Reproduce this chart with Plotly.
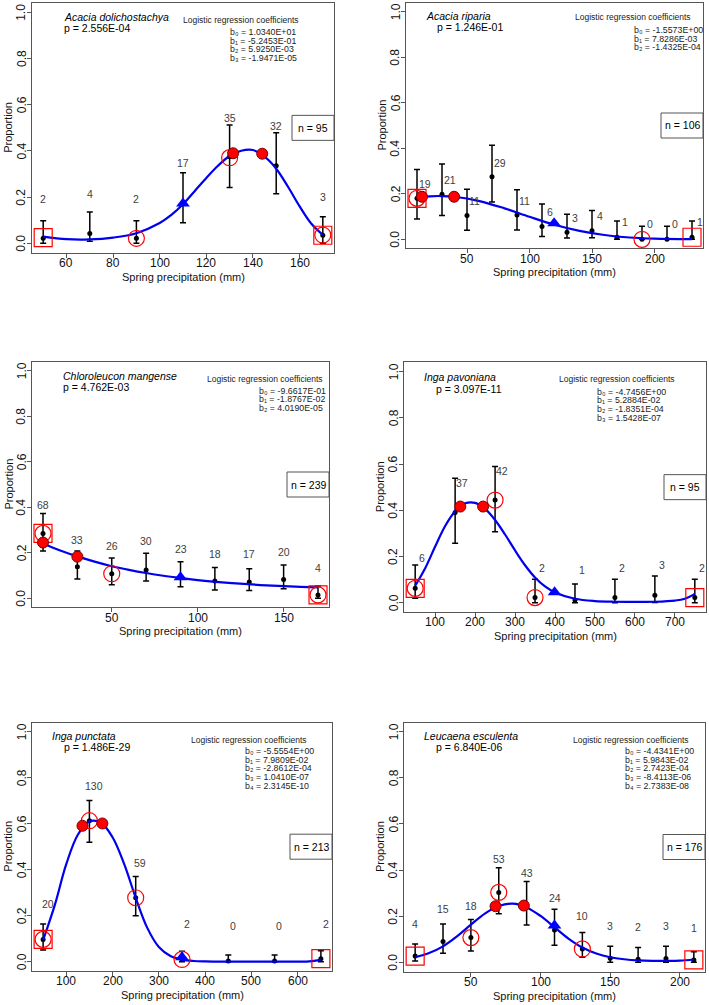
import math
import plotly.graph_objects as go

W, H = 709, 1005

# ---------------- DATA ----------------
# Panel 1: Acacia dolichostachya
ad_species = "Acacia dolichostachya"
ad_pvalue = "p = 2.556E-04"
ad_coefs = ["1.0340E+01", "-5.2453E-01", "5.9250E-03", "-1.9471E-05"]
ad_n = "n = 95"
ad_x = [50, 70, 90, 110, 130, 150, 170]
ad_prop = [0.022, 0.043, 0.022, 0.176, 0.375, 0.336, 0.035]
ad_upper = [0.098, 0.136, 0.098, 0.306, 0.512, 0.479, 0.115]
ad_lower = [0.0, 0.009, 0.0, 0.089, 0.242, 0.215, 0.0]
ad_count = [2, 4, 2, 17, 35, 32, 3]
ad_count_y = [0.192, 0.214, 0.192, 0.349, 0.541, 0.508, 0.202]
ad_fit_x = [50, 60, 70, 80, 90, 100, 105, 110, 115, 120, 125, 130, 135, 140, 145, 150, 155, 160, 165, 170]
ad_fit_y = [0.029, 0.018, 0.017, 0.025, 0.044, 0.088, 0.123, 0.169, 0.226, 0.283, 0.336, 0.378, 0.401,
            0.404, 0.375, 0.323, 0.246, 0.161, 0.086, 0.037]
ad_square_x = [50, 170]
ad_square_y = [0.025, 0.035]
ad_circle_x = [90, 130, 170]
ad_circle_y = [0.022, 0.371, 0.036]
ad_dot_x = [131.5, 144]
ad_dot_y = [0.39, 0.388]
ad_tri_x = [110]
ad_tri_y = [0.173]

# Panel 2: Acacia riparia
ar_species = "Acacia riparia"
ar_pvalue = "p = 1.246E-01"
ar_coefs = ["-1.5573E+00", "7.8286E-03", "-1.4325E-04"]
ar_n = "n = 106"
ar_x = [10, 30, 50, 70, 90, 110, 130, 150, 170, 190, 210, 230]
ar_prop = [0.18, 0.198, 0.105, 0.275, 0.107, 0.056, 0.031, 0.038, 0.009, 0.0, 0.0, 0.009]
ar_upper = [0.307, 0.331, 0.22, 0.413, 0.218, 0.155, 0.11, 0.127, 0.08, 0.057, 0.057, 0.08]
ar_lower = [0.089, 0.105, 0.04, 0.164, 0.041, 0.012, 0.006, 0.007, 0.0, 0.0, 0.0, 0.0]
ar_count = [19, 21, 11, 29, 11, 6, 3, 4, 1, 0, 0, 1]
ar_count_y = [0.245, 0.261, 0.17, 0.337, 0.168, 0.12, 0.092, 0.102, 0.075, 0.066, 0.066, 0.075]
ar_fit_x = [10, 20, 30, 40, 60, 80, 100, 120, 140, 160, 180, 200, 230]
ar_fit_y = [0.183, 0.189, 0.190, 0.187, 0.168, 0.136, 0.099, 0.064, 0.037, 0.019, 0.008, 0.003, 0.001]
ar_square_x = [10, 230]
ar_square_y = [0.18, 0.009]
ar_circle_x = [10, 190]
ar_circle_y = [0.18, 0.0]
ar_dot_x = [14, 39.7]
ar_dot_y = [0.187, 0.187]
ar_tri_x = [119.7]
ar_tri_y = [0.07]

# Panel 3: Chloroleucon mangense
cm_species = "Chloroleucon mangense"
cm_pvalue = "p = 4.762E-03"
cm_coefs = ["-9.6617E-01", "-1.8767E-02", "4.0190E-05"]
cm_n = "n = 239"
cm_x = [10, 30, 50, 70, 90, 110, 130, 150, 170]
cm_prop = [0.285, 0.139, 0.108, 0.124, 0.092, 0.076, 0.072, 0.083, 0.015]
cm_upper = [0.373, 0.208, 0.177, 0.198, 0.161, 0.135, 0.13, 0.146, 0.054]
cm_lower = [0.208, 0.085, 0.059, 0.076, 0.051, 0.037, 0.034, 0.042, 0.0]
cm_count = [68, 33, 26, 30, 23, 18, 17, 20, 4]
cm_count_y = [0.41, 0.256, 0.23, 0.25, 0.217, 0.196, 0.193, 0.205, 0.135]
cm_fit_x = [10, 20, 30, 40, 50, 60, 70, 80, 90, 100, 120, 140, 160, 170]
cm_fit_y = [0.241, 0.210, 0.184, 0.161, 0.141, 0.125, 0.111, 0.099, 0.089, 0.080, 0.067, 0.057, 0.050, 0.048]
cm_square_x = [10, 170]
cm_square_y = [0.285, 0.015]
cm_circle_x = [10, 50, 170]
cm_circle_y = [0.285, 0.108, 0.015]
cm_dot_x = [10, 30]
cm_dot_y = [0.245, 0.183]
cm_tri_x = [90]
cm_tri_y = [0.092]

# Panel 4: Inga pavoniana
ip_species = "Inga pavoniana"
ip_pvalue = "p = 3.097E-11"
ip_coefs = ["-4.7456E+00", "5.2884E-02", "-1.8351E-04", "1.5428E-07"]
ip_n = "n = 95"
ip_x = [50, 150, 250, 350, 450, 550, 650, 750]
ip_prop = [0.062, 0.39, 0.444, 0.022, 0.012, 0.022, 0.032, 0.022]
ip_upper = [0.163, 0.538, 0.589, 0.101, 0.081, 0.101, 0.115, 0.101]
ip_lower = [0.019, 0.257, 0.307, 0.0, 0.0, 0.0, 0.001, 0.0]
ip_count = [6, 37, 42, 2, 1, 2, 3, 2]
ip_count_y = [0.195, 0.52, 0.571, 0.152, 0.141, 0.152, 0.163, 0.152]
ip_fit_x = [50, 75, 100, 125, 150, 175, 200, 225, 250, 275, 300, 325, 350, 375, 400, 450, 500, 550, 600,
            650, 700, 725, 750]
ip_fit_y = [0.073, 0.149, 0.243, 0.332, 0.396, 0.430, 0.432, 0.406, 0.358, 0.295, 0.226, 0.162, 0.109,
            0.070, 0.044, 0.017, 0.007, 0.004, 0.003, 0.004, 0.009, 0.017, 0.038]
ip_square_x = [50, 750]
ip_square_y = [0.062, 0.022]
ip_circle_x = [50, 250, 350]
ip_circle_y = [0.062, 0.444, 0.022]
ip_dot_x = [163, 220]
ip_dot_y = [0.416, 0.416]
ip_tri_x = [399]
ip_tri_y = [0.045]

# Panel 5: Inga punctata
pu_species = "Inga punctata"
pu_pvalue = "p = 1.486E-29"
pu_coefs = ["-5.5554E+00", "7.9809E-02", "-2.8612E-04", "1.0410E-07", "2.3145E-10"]
pu_n = "n = 213"
pu_x = [50, 150, 250, 350, 450, 550, 650]
pu_prop = [0.097, 0.613, 0.278, 0.01, 0.003, 0.003, 0.013]
pu_upper = [0.164, 0.701, 0.37, 0.045, 0.029, 0.029, 0.048]
pu_lower = [0.051, 0.519, 0.2, 0.0, 0.0, 0.0, 0.0]
pu_count = [20, 130, 59, 2, 0, 0, 2]
pu_count_y = [0.249, 0.764, 0.43, 0.164, 0.155, 0.155, 0.164]
pu_fit_x = [50, 75, 100, 125, 150, 175, 200, 225, 250, 275, 300, 325, 350, 375, 400, 450, 500, 550,
            600, 625, 650]
pu_fit_y = [0.094, 0.245, 0.424, 0.552, 0.610, 0.604, 0.541, 0.425, 0.278, 0.147, 0.064, 0.025, 0.009,
            0.003, 0.001, 0.0, 0.0, 0.0, 0.0, 0.001, 0.009]
pu_square_x = [50, 650]
pu_square_y = [0.097, 0.013]
pu_circle_x = [50, 150, 250, 350]
pu_circle_y = [0.097, 0.613, 0.278, 0.01]
pu_dot_x = [135, 178]
pu_dot_y = [0.591, 0.601]
pu_tri_x = [350]
pu_tri_y = [0.019]

# Panel 6: Leucaena esculenta
le_species = "Leucaena esculenta"
le_pvalue = "p = 6.840E-06"
le_coefs = ["-4.4341E+00", "5.9843E-02", "2.7423E-04", "-8.4113E-06", "2.7383E-08"]
le_n = "n = 176"
le_x = [10, 30, 50, 70, 90, 110, 130, 150, 170, 190, 210]
le_prop = [0.027, 0.09, 0.107, 0.303, 0.245, 0.14, 0.058, 0.017, 0.013, 0.016, 0.01]
le_upper = [0.079, 0.166, 0.186, 0.41, 0.35, 0.23, 0.129, 0.069, 0.064, 0.069, 0.046]
le_lower = [0.006, 0.039, 0.049, 0.211, 0.162, 0.074, 0.022, 0.0, 0.0, 0.0, 0.0]
le_count = [4, 15, 18, 53, 43, 24, 10, 3, 2, 3, 1]
le_count_y = [0.166, 0.23, 0.246, 0.448, 0.389, 0.28, 0.2, 0.158, 0.155, 0.158, 0.15]
le_fit_x = [10, 20, 30, 40, 50, 60, 70, 80, 90, 100, 110, 120, 130, 140, 150, 160, 170, 180, 190, 200, 210]
le_fit_y = [0.022, 0.040, 0.069, 0.112, 0.163, 0.211, 0.244, 0.254, 0.238, 0.201, 0.152, 0.103, 0.064,
            0.038, 0.022, 0.013, 0.008, 0.006, 0.006, 0.007, 0.012]
le_square_x = [10, 210]
le_square_y = [0.027, 0.01]
le_circle_x = [50, 70, 130]
le_circle_y = [0.107, 0.303, 0.058]
le_dot_x = [67.7, 88]
le_dot_y = [0.243, 0.246]
le_tri_x = [110]
le_tri_y = [0.159]

X_TITLE = "Spring precipitation (mm)"
Y_TITLE = "Proportion"
COEF_HEADER = "Logistic regression coefficients"
Y_TICKS = [0.0, 0.2, 0.4, 0.6, 0.8, 1.0]
Y_TICK_TEXT = ["0.0", "0.2", "0.4", "0.6", "0.8", "1.0"]
SUBSCRIPTS = ["\u2080", "\u2081", "\u2082", "\u2083", "\u2084"]

panels = [
    dict(species=ad_species, pval=ad_pvalue, coefs=ad_coefs, n=ad_n, x=ad_x, y=ad_prop, hi=ad_upper,
         lo=ad_lower, cnt=ad_count, cnt_y=ad_count_y, fx=ad_fit_x, fy=ad_fit_y, sqx=ad_square_x,
         sqy=ad_square_y, cix=ad_circle_x, ciy=ad_circle_y, dx=ad_dot_x, dy=ad_dot_y, tx=ad_tri_x, ty=ad_tri_y),
    dict(species=ar_species, pval=ar_pvalue, coefs=ar_coefs, n=ar_n, x=ar_x, y=ar_prop, hi=ar_upper,
         lo=ar_lower, cnt=ar_count, cnt_y=ar_count_y, fx=ar_fit_x, fy=ar_fit_y, sqx=ar_square_x,
         sqy=ar_square_y, cix=ar_circle_x, ciy=ar_circle_y, dx=ar_dot_x, dy=ar_dot_y, tx=ar_tri_x, ty=ar_tri_y),
    dict(species=cm_species, pval=cm_pvalue, coefs=cm_coefs, n=cm_n, x=cm_x, y=cm_prop, hi=cm_upper,
         lo=cm_lower, cnt=cm_count, cnt_y=cm_count_y, fx=cm_fit_x, fy=cm_fit_y, sqx=cm_square_x,
         sqy=cm_square_y, cix=cm_circle_x, ciy=cm_circle_y, dx=cm_dot_x, dy=cm_dot_y, tx=cm_tri_x, ty=cm_tri_y),
    dict(species=ip_species, pval=ip_pvalue, coefs=ip_coefs, n=ip_n, x=ip_x, y=ip_prop, hi=ip_upper,
         lo=ip_lower, cnt=ip_count, cnt_y=ip_count_y, fx=ip_fit_x, fy=ip_fit_y, sqx=ip_square_x,
         sqy=ip_square_y, cix=ip_circle_x, ciy=ip_circle_y, dx=ip_dot_x, dy=ip_dot_y, tx=ip_tri_x, ty=ip_tri_y),
    dict(species=pu_species, pval=pu_pvalue, coefs=pu_coefs, n=pu_n, x=pu_x, y=pu_prop, hi=pu_upper,
         lo=pu_lower, cnt=pu_count, cnt_y=pu_count_y, fx=pu_fit_x, fy=pu_fit_y, sqx=pu_square_x,
         sqy=pu_square_y, cix=pu_circle_x, ciy=pu_circle_y, dx=pu_dot_x, dy=pu_dot_y, tx=pu_tri_x, ty=pu_tri_y),
    dict(species=le_species, pval=le_pvalue, coefs=le_coefs, n=le_n, x=le_x, y=le_prop, hi=le_upper,
         lo=le_lower, cnt=le_count, cnt_y=le_count_y, fx=le_fit_x, fy=le_fit_y, sqx=le_square_x,
         sqy=le_square_y, cix=le_circle_x, ciy=le_circle_y, dx=le_dot_x, dy=le_dot_y, tx=le_tri_x, ty=le_tri_y),
]

# ---------------- LAYOUT (pixel geometry / styles) ----------------
BOX = [(32, 334, 3.1, 252.6), (406, 703, 2.6, 248.4), (32, 329, 361.6, 607.4),
       (404, 706, 362.4, 611.9), (32, 332, 722.5, 970.9), (404, 705, 722.5, 971.5)]
XRANGE = [(45.2, 174.8), (1.2, 238.8), (3.6, 176.4), (22, 778), (26, 674), (2, 218)]
XDTICK = [20, 50, 50, 100, 100, 50]
CNT_SHIFT = [0, 7.5, 0, 7, 4.7, 0]
TXT = [
    ((61.7, 16.7), (61.7, 27.8), (241.3, 20.0), (227.7, 32.0)),
    ((424.0, 15.5), (435.0, 27.0), (633.0, 17.0), (632.3, 30.0)),
    ((61.0, 376.0), (61.0, 387.2), (264.5, 379.3), (256.7, 390.7)),
    ((422.3, 376.7), (434.0, 388.7), (616.5, 379.3), (595.0, 391.7)),
    ((50.0, 735.7), (61.7, 747.3), (249.2, 740.0), (243.3, 751.0)),
    ((422.3, 735.7), (434.0, 747.3), (630.8, 740.0), (623.3, 751.0)),
]
COEF_STEP = 8.7
FONT = "Liberation Sans, Arial, sans-serif"
AXCOL = "#555555"
TICKFONT = dict(family=FONT, size=12, color="#111111")


def px(xp):
    return xp / W


def py(yp):
    return 1 - yp / H


fig = go.Figure()
annotations = []
shapes = []
layout_axes = {}

for i, (p, box) in enumerate(zip(panels, BOX)):
    k = "" if i == 0 else str(i + 1)
    xa, ya = "x" + k, "y" + k
    L, R, T, B = box
    x0r, x1r = XRANGE[i]
    layout_axes["xaxis" + k] = dict(
        domain=[px(L), px(R)], range=[x0r, x1r], anchor=ya, dtick=XDTICK[i], tick0=0,
        showline=True, mirror=True, linecolor=AXCOL, linewidth=1, ticks="outside", ticklen=4,
        tickcolor=AXCOL, showgrid=False, zeroline=False, showticklabels=False)
    layout_axes["yaxis" + k] = dict(
        domain=[py(B), py(T)], range=[-0.04, 1.04], anchor=xa, tickvals=Y_TICKS,
        showline=True, mirror=True, linecolor=AXCOL, linewidth=1, ticks="outside",
        ticklen=4, tickcolor=AXCOL, showgrid=False, zeroline=False, showticklabels=False)

    # tick labels placed like R's axis()
    t = math.ceil(x0r / XDTICK[i]) * XDTICK[i]
    while t <= x1r:
        annotations.append(dict(x=t, y=py(B + 10.5), xref=xa, yref="paper", text=str(int(t)),
                                showarrow=False, xanchor="center", yanchor="middle", font=TICKFONT))
        t += XDTICK[i]
    for tv, tt in zip(Y_TICKS, Y_TICK_TEXT):
        annotations.append(dict(x=px(L - 10.5), y=tv, xref="paper", yref=ya, text=tt, textangle=-90,
                                showarrow=False, xanchor="center", yanchor="middle", font=TICKFONT))

    # observed proportions with error bars
    fig.add_trace(go.Scatter(
        x=p["x"], y=p["y"], xaxis=xa, yaxis=ya, mode="markers",
        marker=dict(color="black", size=5),
        error_y=dict(type="data", symmetric=False,
                     array=[h - v for h, v in zip(p["hi"], p["y"])],
                     arrayminus=[v - l for v, l in zip(p["y"], p["lo"])],
                     color="black", thickness=1.5, width=3),
        showlegend=False, hoverinfo="skip"))
    # fitted logistic curve
    fig.add_trace(go.Scatter(
        x=p["fx"], y=p["fy"], xaxis=xa, yaxis=ya, mode="lines",
        line=dict(color="#0000ee", width=2.2, shape="spline", smoothing=1),
        showlegend=False, hoverinfo="skip"))
    fig.add_trace(go.Scatter(
        x=p["sqx"], y=p["sqy"], xaxis=xa, yaxis=ya, mode="markers",
        marker=dict(symbol="square-open", size=18, color="#ff0000", line=dict(width=1.2, color="#ff0000")),
        showlegend=False, hoverinfo="skip"))
    fig.add_trace(go.Scatter(
        x=p["cix"], y=p["ciy"], xaxis=xa, yaxis=ya, mode="markers",
        marker=dict(symbol="circle-open", size=16, color="#ff0000", line=dict(width=1.2, color="#ff0000")),
        showlegend=False, hoverinfo="skip"))
    fig.add_trace(go.Scatter(
        x=p["dx"], y=p["dy"], xaxis=xa, yaxis=ya, mode="markers",
        marker=dict(symbol="circle", size=11, color="#ff0000", line=dict(width=1, color="#7a0000")),
        showlegend=False, hoverinfo="skip"))
    fig.add_trace(go.Scatter(
        x=p["tx"], y=p["ty"], xaxis=xa, yaxis=ya, mode="markers",
        marker=dict(symbol="triangle-up", size=12, color="#0000ff"),
        showlegend=False, hoverinfo="skip"))

    # sample size labels
    for xv, cv, yv in zip(p["x"], p["cnt"], p["cnt_y"]):
        annotations.append(dict(x=xv, y=yv, xref=xa, yref=ya, text=str(cv), showarrow=False,
                                xanchor="center", yanchor="middle", xshift=CNT_SHIFT[i],
                                font=dict(family=FONT, size=10.5, color="#404040")))

    (sx, sy), (pxl, pyl), (hx, hy), (cx, cy) = TXT[i]
    annotations.append(dict(x=px(sx), y=py(sy), xref="paper", yref="paper", text="<i>%s</i>" % p["species"],
                            showarrow=False, xanchor="left", yanchor="middle",
                            font=dict(family=FONT, size=10.5, color="black")))
    annotations.append(dict(x=px(pxl), y=py(pyl), xref="paper", yref="paper", text=p["pval"],
                            showarrow=False, xanchor="left", yanchor="middle",
                            font=dict(family=FONT, size=10.5, color="black")))
    annotations.append(dict(x=px(hx), y=py(hy), xref="paper", yref="paper", text=COEF_HEADER,
                            showarrow=False, xanchor="center", yanchor="middle",
                            font=dict(family=FONT, size=8.5, color="#222222")))
    for j, c in enumerate(p["coefs"]):
        annotations.append(dict(x=px(cx), y=py(cy + j * COEF_STEP), xref="paper", yref="paper",
                                text="b%s = %s" % (SUBSCRIPTS[j], c), showarrow=False,
                                xanchor="left", yanchor="middle",
                                font=dict(family=FONT, size=8.8, color="#222222")))

    # axis titles
    annotations.append(dict(x=px((L + R) / 2), y=py(B + 24), xref="paper", yref="paper", text=X_TITLE,
                            showarrow=False, xanchor="center", yanchor="middle",
                            font=dict(family=FONT, size=11, color="#111111")))
    annotations.append(dict(x=px(L - 24), y=py((T + B) / 2), xref="paper", yref="paper", text=Y_TITLE,
                            showarrow=False, xanchor="center", yanchor="middle", textangle=-90,
                            font=dict(family=FONT, size=11, color="#111111")))

    # n = ... box at the right edge, vertically centred
    bw, bh = 42, 25
    cyb = (T + B) / 2
    shapes.append(dict(type="rect", xref="paper", yref="paper", x0=px(R - bw), x1=px(R),
                       y0=py(cyb + bh / 2), y1=py(cyb - bh / 2), line=dict(color=AXCOL, width=1),
                       fillcolor="white", layer="above"))
    annotations.append(dict(x=px(R - bw / 2), y=py(cyb), xref="paper", yref="paper", text=p["n"],
                            showarrow=False, xanchor="center", yanchor="middle",
                            font=dict(family=FONT, size=10.5, color="black")))

fig.update_layout(
    width=W, height=H, margin=dict(l=0, r=0, t=0, b=0),
    paper_bgcolor="white", plot_bgcolor="white",
    annotations=annotations, shapes=shapes, showlegend=False, **layout_axes)

fig.write_html("out.html")
